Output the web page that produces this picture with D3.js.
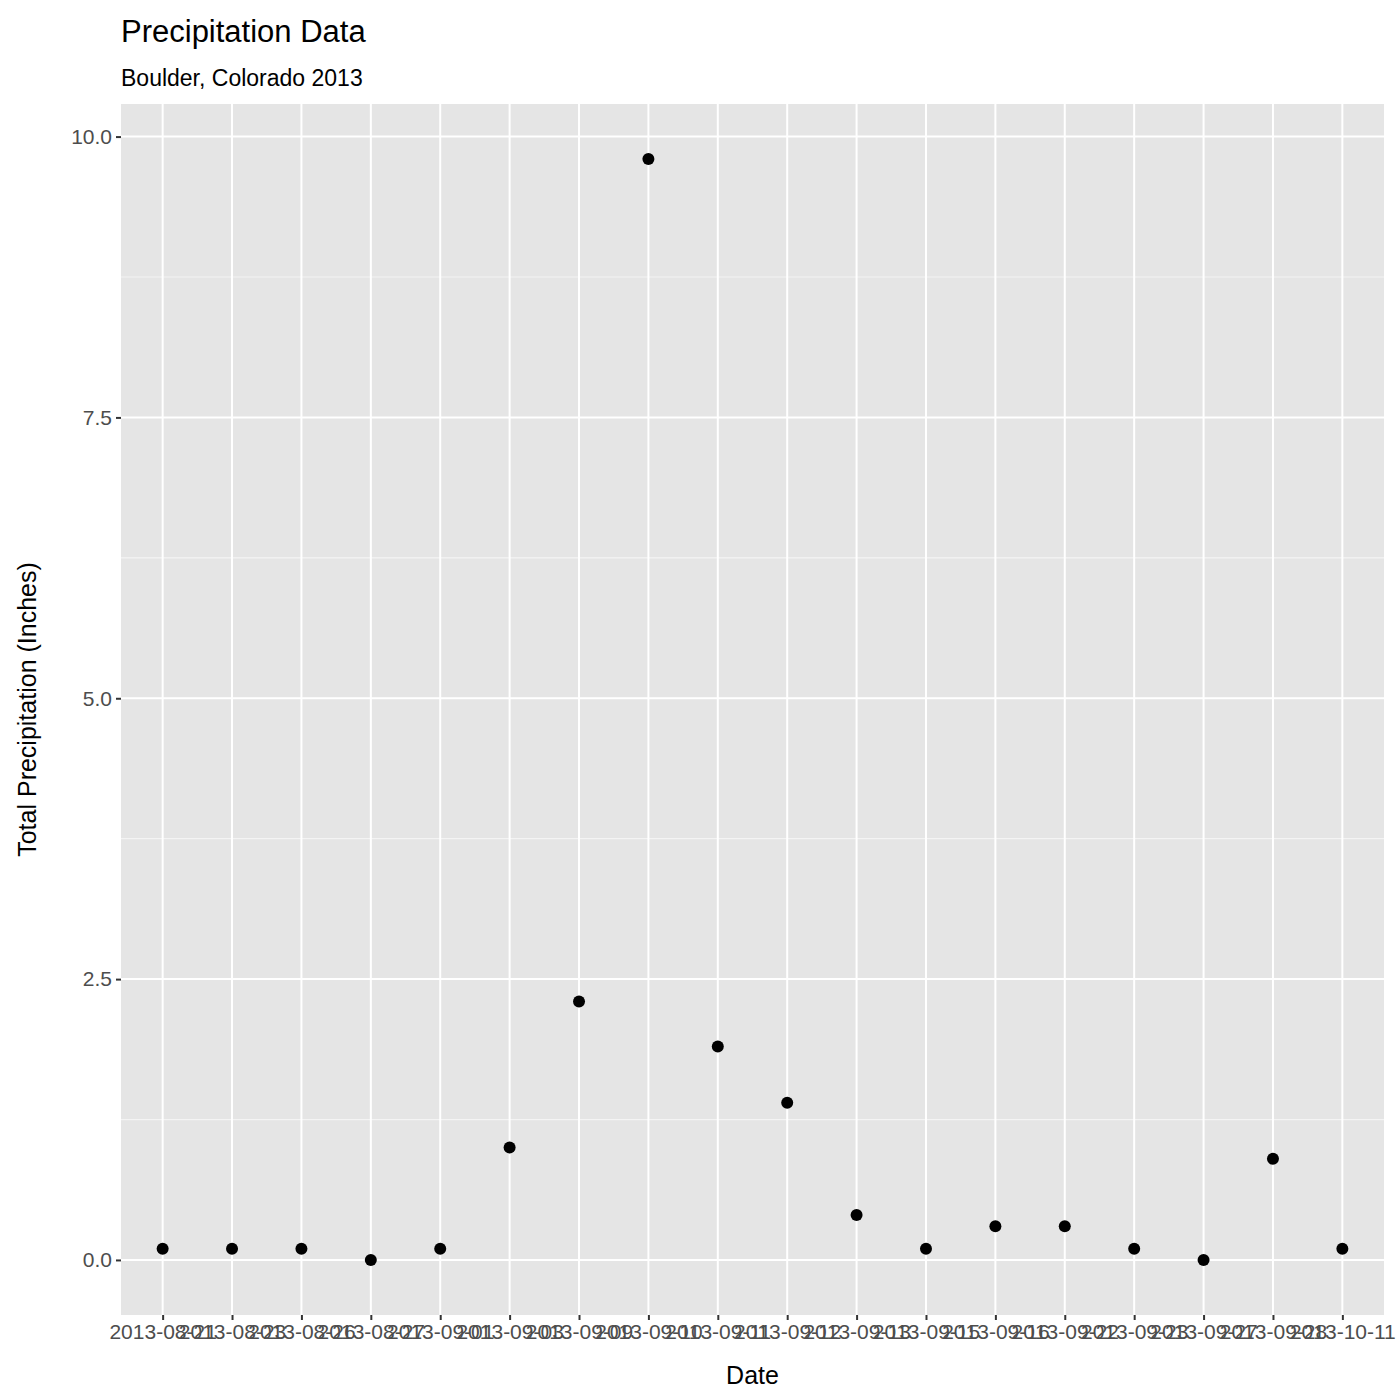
<!DOCTYPE html>
<html><head><meta charset="utf-8">
<script src="https://cdn.jsdelivr.net/npm/d3@7"></script>
<style>body{margin:0;background:#fff}text{font-family:"Liberation Sans",Arial,sans-serif}</style>
</head><body><div id="chart"></div>
<script>
var dates = ['2013-08-21','2013-08-23','2013-08-26','2013-08-27','2013-09-01','2013-09-03','2013-09-09','2013-09-10','2013-09-11','2013-09-12','2013-09-13','2013-09-15','2013-09-16','2013-09-22','2013-09-23','2013-09-27','2013-09-28','2013-10-11'];
var precip = [0.1,0.1,0.1,0,0.1,1.0,2.3,9.8,1.9,1.4,0.4,0.1,0.3,0.3,0.1,0,0.9,0.1];
var yTicks = [0,2.5,5,7.5,10];

var width = 1400, height = 1400;
var margin = {top: 104, right: 16, bottom: 85, left: 121};
var chartWidth = width - margin.left - margin.right;
var chartHeight = height - margin.top - margin.bottom;

var svg = d3.select('#chart').append('svg').attr('width', width).attr('height', height);
var g = svg.append('g').attr('transform', `translate(${margin.left}, ${margin.top})`);

var xScale = d3.scalePoint().domain(dates).range([0, chartWidth]).padding(0.6);
var yScale = d3.scaleLinear().domain([-0.49, 10.29]).range([chartHeight, 0]);

g.append('rect').attr('width', chartWidth).attr('height', chartHeight).attr('fill', '#e5e5e5');

// minor grid
g.selectAll('.minor').data([1.25, 3.75, 6.25, 8.75]).enter().append('line')
    .attr('x1', 0).attr('x2', chartWidth)
    .attr('y1', d => yScale(d)).attr('y2', d => yScale(d))
    .attr('stroke', '#f4f4f4').attr('stroke-width', 1.2);
g.selectAll('.hmaj').data(yTicks).enter().append('line')
    .attr('x1', 0).attr('x2', chartWidth)
    .attr('y1', d => yScale(d)).attr('y2', d => yScale(d))
    .attr('stroke', '#fff').attr('stroke-width', 2);
g.selectAll('.vmaj').data(dates).enter().append('line')
    .attr('x1', d => xScale(d)).attr('x2', d => xScale(d))
    .attr('y1', 0).attr('y2', chartHeight)
    .attr('stroke', '#fff').attr('stroke-width', 2);

var yAxis = g.append('g').call(d3.axisLeft(yScale).tickValues(yTicks).tickFormat(d3.format('.1f')).tickSize(5).tickPadding(4));
var xAxis = g.append('g').attr('transform', `translate(0, ${chartHeight})`)
    .call(d3.axisBottom(xScale).tickSize(5).tickPadding(4));
[yAxis, xAxis].forEach(function (a) {
    a.select('.domain').remove();
    a.selectAll('line').attr('stroke', '#333').attr('stroke-width', 2);
    a.selectAll('text').attr('fill', '#4d4d4d').style('font-size', '21px');
});

g.selectAll('circle').data(dates).enter().append('circle')
    .attr('cx', d => xScale(d))
    .attr('cy', (d, i) => yScale(precip[i]))
    .attr('r', 6).attr('fill', '#000');

svg.append('text').attr('x', 121).attr('y', 42).style('font-size', '31px').text('Precipitation Data');
svg.append('text').attr('x', 121).attr('y', 86).style('font-size', '23px').text('Boulder, Colorado 2013');
svg.append('text').attr('x', margin.left + chartWidth / 2).attr('y', 1384).attr('text-anchor', 'middle')
    .style('font-size', '25px').text('Date');
svg.append('text').attr('transform', `translate(36, ${margin.top + chartHeight / 2}) rotate(-90)`)
    .attr('text-anchor', 'middle').style('font-size', '25px').text('Total Precipitation (Inches)');
</script></body></html>
